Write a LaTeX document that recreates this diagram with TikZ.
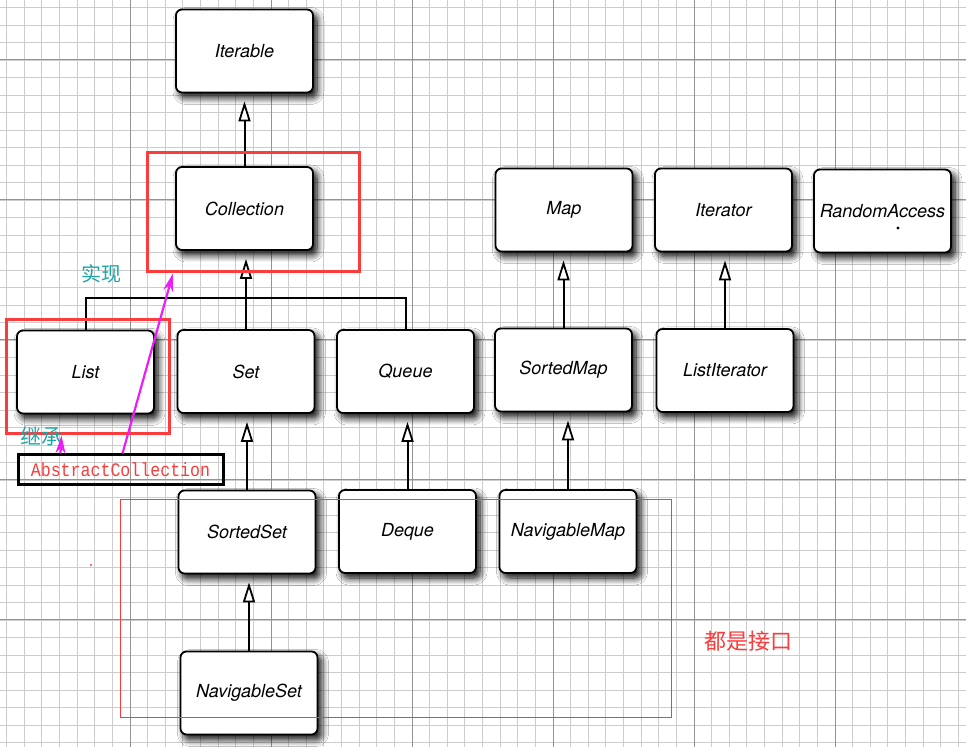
\documentclass[tikz,border=0pt]{standalone}
\usepackage{fontspec}
\setmainfont{TeX Gyre Heros}
\newfontfamily\cjk{Noto Sans CJK SC}
\newfontfamily\codefont{Liberation Mono}
\usetikzlibrary{arrows.meta}
\usetikzlibrary{shadows.blur}

\definecolor{notered}{RGB}{250,60,60}
\definecolor{noteteal}{RGB}{30,165,165}
\definecolor{notepink}{RGB}{235,30,245}

\begin{document}
\begin{tikzpicture}
[x=0.5pt,y=-0.5pt,%
  iface/.style={draw,line width=0.9pt,rounded corners=3pt,fill=white,%
    minimum width=68.5pt,minimum height=41.5pt,inner sep=0pt,%
    font=\itshape\fontsize{9}{10}\selectfont,%
    blur shadow={shadow xshift=2pt,shadow yshift=-2.5pt,%
      shadow blur radius=3.5pt,shadow blur steps=8,shadow opacity=100}},%
  inherit/.style={line width=1pt,shorten >=4pt,%
    -{Triangle[fill=white,length=10pt,width=6pt,line width=0.9pt]}},%
  plain/.style={line width=1pt},%
  hilite/.style={draw=notered,line width=1.5pt,inner sep=0pt},%
  note/.style={notepink,line width=1.1pt,-{Stealth[length=9pt,width=5pt]}},%
  minor/.style={gray!40,line width=0.4pt},%
  major/.style={gray!85,line width=0.5pt}]
\useasboundingbox[fill=white] (0,0) rectangle (966,747);
\begin{scope}
\clip (0,0) rectangle (966,747);
\foreach \i in {-7,...,47}
  \draw[minor] ({130+17.625*\i},0) -- ++(0,747);
\foreach \j in {-3,...,39}
  \draw[minor] (0,{60+17.5*\j}) -- ++(966,0);
\foreach \i in {-1,...,6}
  \draw[major] ({130+141*\i},0) -- ++(0,747);
\foreach \j in {0,...,5}
  \draw[major] (0,{60+140*\j}) -- ++(966,0);
\end{scope}
% interfaces
\node[iface] (Iterable) at (244.5,51) {Iterable};
\node[iface] (Collection) at (244.5,208.5) {Collection};
\node[iface] (Map) at (564,210) {Map};
\node[iface] (Iterator) at (723.5,210) {Iterator};
\node[iface] (RandomAccess) at (882.5,211) {RandomAccess};
\node[iface] (List) at (85.5,372) {List};
\node[iface] (Set) at (246,371.5) {Set};
\node[iface] (Queue) at (405.5,371.5) {Queue};
\node[iface] (SortedMap) at (563.5,370) {SortedMap};
\node[iface] (ListIterator) at (725,370.5) {ListIterator};
\node[iface] (SortedSet) at (247,532) {SortedSet};
\node[iface] (Deque) at (407.5,531.5) {Deque};
\node[iface] (NavigableMap) at (568,531.5) {NavigableMap};
\node[iface] (NavigableSet) at (249,693) {NavigableSet};
\fill (898,228) circle (0.8pt);
\coordinate (joint) at (246,298);
\draw[inherit] (Collection.north) -- (Collection.north |- Iterable.south);
\draw[plain] (List.north) |- (joint) -| (Queue.north);
\draw[inherit] (Set.north) -- (Set.north |- Collection.south);
\draw[inherit] (SortedMap.north) -- (SortedMap.north |- Map.south);
\draw[inherit] (ListIterator.north) -- (ListIterator.north |- Iterator.south);
\draw[inherit] (SortedSet.north) -- (SortedSet.north |- Set.south);
\draw[inherit] (Deque.north) -- (Deque.north |- Queue.south);
\draw[inherit] (NavigableMap.north) -- (NavigableMap.north |- SortedMap.south);
\draw[inherit] (NavigableSet.north) -- (NavigableSet.north |- SortedSet.south);
% notes
\node[hilite,minimum width=106pt,minimum height=59.5pt] (collbox) at (253,212.5) {};
\node[hilite,minimum width=81.5pt,minimum height=57pt] (listbox) at (87.5,377) {};
\node[draw=notered,line width=0.5pt,inner sep=0pt,%
  minimum width=275.5pt,minimum height=109pt] (allbox) at (395.5,609) {};
\node[draw,line width=1.5pt,minimum width=102.5pt,minimum height=15pt,%
  inner sep=0pt,text=notered] (abstract) at (120.5,470)
  {\codefont\fontsize{8.3}{9}\selectfont\scalebox{1}[1.15]{AbstractCollection}};
\node[noteteal,font=\cjk\fontsize{10}{12}\selectfont] (impl) at (102,274) {实现};
\node[noteteal,font=\cjk\fontsize{10.5}{12}\selectfont] (ext) at (41,436) {继承};
\node[notered,font=\cjk\fontsize{11}{13}\selectfont] (allnote) at (748,641) {都是接口};
\fill[notered] (91,565) circle (0.6pt);
\draw[note] ([xshift=1pt]abstract.north) -- ([xshift=-40pt]collbox.south);
\draw[note] ([xshift=-30pt]abstract.north) -- ([xshift=-13pt]listbox.south);
\end{tikzpicture}
\end{document}
